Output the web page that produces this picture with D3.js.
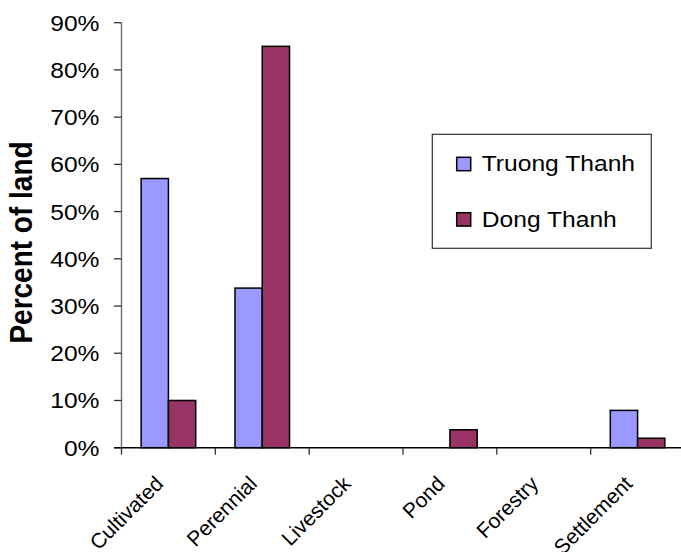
<!DOCTYPE html>
<html>
<head>
<meta charset="utf-8">
<script src="https://cdn.jsdelivr.net/npm/d3@7"></script>
<style>
  html, body { margin: 0; padding: 0; background: #fff; }
  svg { display: block; }
  text { font-family: "Liberation Sans", Arial, sans-serif; fill: #000; }
</style>
</head>
<body>
<svg id="chart" width="681" height="552"></svg>
<script>
// Land use share by category for the two communes
const categories = ["Cultivated", "Perennial", "Livestock", "Pond", "Forestry", "Settlement"];
const seriesNames = ["Truong Thanh", "Dong Thanh"];
const truongThanh = [57, 33.8, 0, 0, 0, 7.9];
const dongThanh = [10, 85, 0, 3.8, 0, 2];
const yTicks = [0, 10, 20, 30, 40, 50, 60, 70, 80, 90];
const colors = ["#9999FF", "#993366"];

const series = [truongThanh, dongThanh];
const sx = 1.12; // horizontal text stretch

const svg = d3.select("#chart");

const x = d3.scaleBand().domain(categories).range([121.5, 684.5]).paddingInner(0).paddingOuter(0);
const inner = d3.scaleBand().domain(seriesNames).range([0, x.bandwidth()]).paddingInner(0).paddingOuter(0.72);
const y = d3.scaleLinear().domain([0, 90]).range([447.7, 22.7]);

// Y axis
const yAxis = svg.append("g");
yAxis.append("line")
  .attr("x1", 121.5).attr("x2", 121.5)
  .attr("y1", y(90)).attr("y2", y(0))
  .attr("stroke", "#777").attr("stroke-width", 1.5);
yAxis.selectAll("line.tick").data(yTicks).join("line")
  .attr("class", "tick")
  .attr("x1", 114).attr("x2", 121.5)
  .attr("y1", d => y(d)).attr("y2", d => y(d))
  .attr("stroke", "#333").attr("stroke-width", 1.3);
yAxis.selectAll("text").data(yTicks).join("text")
  .attr("transform", d => `translate(99.5,${y(d)}) scale(${sx},1)`)
  .attr("text-anchor", "end")
  .attr("dy", "0.36em")
  .style("font-size", "22px")
  .text(d => d + "%");

// Bars
const groups = svg.append("g").selectAll("g").data(categories).join("g")
  .attr("transform", d => `translate(${x(d)},0)`);
groups.selectAll("rect")
  .data((c, i) => seriesNames.map((s, k) => ({ s, v: series[k][i], k })).filter(d => d.v > 0))
  .join("rect")
  .attr("x", d => inner(d.s))
  .attr("width", inner.bandwidth())
  .attr("y", d => y(d.v))
  .attr("height", d => y(0) - y(d.v))
  .attr("fill", d => colors[d.k])
  .attr("stroke", "#000")
  .attr("stroke-width", 1.5);

// X axis
const xAxis = svg.append("g");
xAxis.append("line")
  .attr("x1", 114).attr("x2", 684.5)
  .attr("y1", y(0)).attr("y2", y(0))
  .attr("stroke", "#000").attr("stroke-width", 1.5);
const boundaries = categories.map(c => x(c)).concat([x.range()[1]]);
xAxis.selectAll("line.tick").data(boundaries).join("line")
  .attr("class", "tick")
  .attr("x1", d => d).attr("x2", d => d)
  .attr("y1", y(0)).attr("y2", y(0) + 7)
  .attr("stroke", "#333").attr("stroke-width", 1.3);
xAxis.selectAll("text").data(categories).join("text")
  .attr("transform", d => `translate(${x(d) + x.bandwidth() / 2 - 4},485) rotate(-45)`)
  .attr("text-anchor", "end")
  .style("font-size", "21px")
  .text(d => d);

// Y axis title
svg.append("text")
  .attr("transform", `translate(32,242.5) scale(${sx},1) rotate(-90)`)
  .attr("text-anchor", "middle")
  .style("font-size", "28px")
  .style("font-weight", "bold")
  .text("Percent of land");

// Legend
const legend = svg.append("g");
legend.append("rect")
  .attr("x", 432.3).attr("y", 134.3)
  .attr("width", 219).attr("height", 114)
  .attr("fill", "#fff").attr("stroke", "#333").attr("stroke-width", 1.2);
const items = legend.selectAll("g").data(seriesNames).join("g")
  .attr("transform", (d, i) => `translate(456.7,${157.3 + i * 55.4})`);
items.append("rect")
  .attr("width", 14).attr("height", 13.4)
  .attr("fill", (d, i) => colors[i])
  .attr("stroke", "#000").attr("stroke-width", 1.5);
items.append("text")
  .attr("transform", `translate(25,14) scale(${sx},1)`)
  .style("font-size", "22px")
  .text(d => d);
</script>
</body>
</html>
